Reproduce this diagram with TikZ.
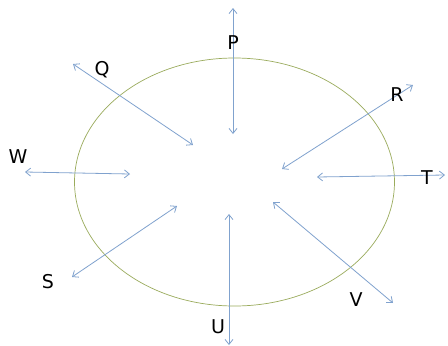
\documentclass[tikz,border=0pt]{standalone}
\usepackage{fontspec}
\setmainfont{DejaVu Sans}
\usetikzlibrary{arrows.meta,shapes.geometric}
\definecolor{arr}{HTML}{80A2CE}
\definecolor{ell}{HTML}{9AAB5C}
\begin{document}
\begin{tikzpicture}[x=1pt,y=-1pt,
  dir/.style={draw=arr,line width=0.8pt,{Straight Barb[length=5pt,width=8pt]}-{Straight Barb[length=5pt,width=8pt]}},
  lab/.style={font=\fontsize{19}{19}\selectfont,inner sep=0pt}]
\useasboundingbox (0,0) rectangle (448,346);
\fill[white] (0,0) rectangle (448,346);
\node[draw=ell,line width=0.7pt,ellipse,minimum width=320pt,minimum height=248pt,inner sep=0pt] (e) at (234.5,182) {};
% endpoints
\coordinate (p1) at (233,8);   \coordinate (p2) at (233,134);
\coordinate (q1) at (73,64);   \coordinate (q2) at (193,145);
\coordinate (r1) at (413,85);  \coordinate (r2) at (282,169);
\coordinate (t1) at (445,175); \coordinate (t2) at (317,177);
\coordinate (w1) at (25,172);  \coordinate (w2) at (130,174);
\coordinate (s1) at (72,277);  \coordinate (s2) at (177,206);
\coordinate (u1) at (229,345); \coordinate (u2) at (229,214);
\coordinate (v1) at (393,303); \coordinate (v2) at (273,202);
\draw[dir] (p1) -- (p2);
\draw[dir] (q1) -- (q2);
\draw[dir] (r1) -- (r2);
\draw[dir] (t1) -- (t2);
\draw[dir] (w1) -- (w2);
\draw[dir] (s1) -- (s2);
\draw[dir] (u1) -- (u2);
\draw[dir] (v1) -- (v2);
\node[lab] (P) at (233,43) {P};
\node[lab] (Q) at (102,70) {Q};
\node[lab] (R) at (397,95) {R};
\node[lab] (T) at (427,178) {T};
\node[lab] (W) at (18,157) {W};
\node[lab] (S) at (48,282) {S};
\node[lab] (U) at (218,327) {U};
\node[lab] (V) at (356,300) {V};
\end{tikzpicture}
\end{document}
